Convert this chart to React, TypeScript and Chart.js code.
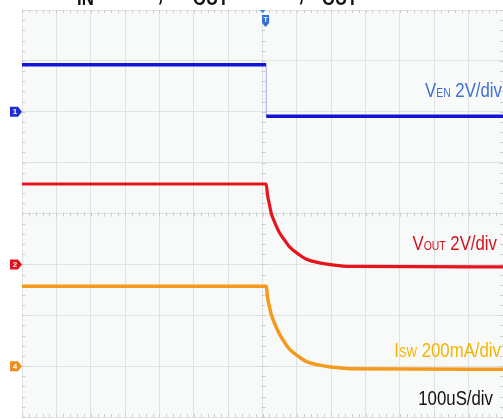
import React, { useEffect, useRef } from "react";
import { Chart, registerables } from "chart.js";

Chart.register(...registerables);

// ---- axis setup (oscilloscope: 100 µs/div, 14 horizontal div, 8 vertical div)
const xMinUs = -700;
const xMaxUs = 700;
const xDivUs = 100;
const yMinDiv = -4;
const yMaxDiv = 4;

// ---- channel 1: V_EN (2 V/div), ground marker at +2 div
const enScale = 2;
const enOffset = 2;
const enTimes = [-700, 10.5, 11, 700];
const enValues = [1.85, 1.85, -0.18, -0.18];

// ---- channel 2: V_OUT (2 V/div), ground marker at -1 div
const outScale = 2;
const outOffset = -1;
const outTimes = [-700, 10.8, 14.6, 20.4, 25.3, 34.9, 49.5, 64.0, 78.6, 107.7, 128.1, 165.9, 203.7, 253.2, 700];
const outValues = [3.16, 3.16, 2.73, 2.34, 2.02, 1.67, 1.24, 0.96, 0.69, 0.37, 0.2, 0.06, -0.02, -0.08, -0.1];

// ---- channel 4: I_SW (200 mA/div), ground marker at -3 div
const swScale = 200;
const swOffset = -3;
const swTimes = [-700, 10.8, 14.6, 20.4, 25.3, 34.9, 49.5, 64.0, 78.6, 107.7, 128.1, 165.9, 203.7, 253.2, 700];
const swValues = [314, 314, 271, 232, 204, 169, 126, 94, 67, 35, 18, 4, -4, -10, -12];

const triggerUs = 9;

const FONT = '"Liberation Sans", Arial, sans-serif';
const SX = 0.8; // horizontal text squeeze of the screenshot

type Seg = { t: string; size: number; dy: number; bold?: boolean };

function toDiv(times: number[], vals: number[], scale: number, offset: number) {
  return times.map((t, i) => ({ x: t, y: offset + vals[i] / scale }));
}

function segWidth(ctx: CanvasRenderingContext2D, segs: Seg[]) {
  let w = 0;
  for (const s of segs) {
    ctx.font = `${s.bold ? "bold " : ""}${s.size}px ${FONT}`;
    w += ctx.measureText(s.t).width * SX;
  }
  return w;
}

function drawSegs(ctx: CanvasRenderingContext2D, segs: Seg[], x: number, base: number, color: string) {
  let cx = x;
  ctx.fillStyle = color;
  ctx.textBaseline = "alphabetic";
  ctx.textAlign = "left";
  for (const s of segs) {
    ctx.font = `${s.bold ? "bold " : ""}${s.size}px ${FONT}`;
    ctx.save();
    ctx.translate(cx, base + s.dy);
    ctx.scale(SX, 1);
    ctx.fillText(s.t, 0, 0);
    ctx.restore();
    cx += ctx.measureText(s.t).width * SX;
  }
}

function drawRight(ctx: CanvasRenderingContext2D, segs: Seg[], right: number, base: number, color: string) {
  const w = segWidth(ctx, segs);
  drawSegs(ctx, segs, right - w, base, color);
}

const scopePlugin = {
  id: "scope",
  beforeDraw(chart: any) {
    const { ctx, chartArea: a } = chart;
    ctx.save();
    ctx.fillStyle = "#ffffff";
    ctx.fillRect(0, 0, chart.width, chart.height);
    ctx.fillStyle = "#f8fafa";
    ctx.fillRect(a.left, a.top, a.right - a.left, a.bottom - a.top);
    ctx.restore();
  },
  beforeDatasetsDraw(chart: any) {
    const { ctx, chartArea: a, scales } = chart;
    const xs = scales.x;
    const ys = scales.y;
    ctx.save();
    ctx.strokeStyle = "#c9cdcd";
    ctx.lineWidth = 1;
    const cx = Math.round(xs.getPixelForValue(0)) + 0.5;
    const cy = Math.round(ys.getPixelForValue(0)) + 0.5;
    ctx.beginPath();
    for (let v = xMinUs; v <= xMaxUs; v += xDivUs / 5) {
      const px = Math.round(xs.getPixelForValue(v)) + 0.5;
      ctx.moveTo(px, a.top);
      ctx.lineTo(px, a.top + 3);
      ctx.moveTo(px, a.bottom);
      ctx.lineTo(px, a.bottom - 3);
      ctx.moveTo(px, cy - 2);
      ctx.lineTo(px, cy + 2);
    }
    for (let v = yMinDiv; v <= yMaxDiv + 0.001; v += 0.2) {
      const py = Math.round(ys.getPixelForValue(v)) + 0.5;
      ctx.moveTo(a.left, py);
      ctx.lineTo(a.left + 3, py);
      ctx.moveTo(a.right, py);
      ctx.lineTo(a.right - 3, py);
      ctx.moveTo(cx - 2, py);
      ctx.lineTo(cx + 2, py);
    }
    ctx.stroke();
    ctx.restore();
  },
  afterDatasetsDraw(chart: any) {
    const { ctx, chartArea: a, scales } = chart;
    const xs = scales.x;
    const ys = scales.y;
    ctx.save();

    // title (cut off at the top of the screenshot)
    const T = 28;
    const S = 21;
    const b = -0.2;
    drawSegs(ctx, [{ t: "V", size: T, dy: 0, bold: true }], 77 - 16, b, "#111");
    drawSegs(ctx, [{ t: "IN", size: S, dy: 4.7, bold: true }, { t: " = 12V,", size: T, dy: 0, bold: true }], 77, b, "#111");
    drawSegs(ctx, [{ t: "V", size: T, dy: 0, bold: true }], 193 - 16, b, "#111");
    drawSegs(ctx, [{ t: "OUT", size: S, dy: 4.7, bold: true }, { t: " = 3.3V,", size: T, dy: 0, bold: true }], 193, b, "#111");
    drawSegs(ctx, [{ t: "I", size: T, dy: 0, bold: true }], 322 - 7, b, "#111");
    drawSegs(ctx, [{ t: "OUT", size: S, dy: 4.7, bold: true }, { t: " = 0A", size: T, dy: 0, bold: true }], 322, b, "#111");

    // channel labels
    drawRight(ctx, [{ t: "V", size: 21, dy: 0 }, { t: "EN", size: 13, dy: 0 }, { t: " 2V/div", size: 21, dy: 0 }], 502, 97, "#3f6fcf");
    drawRight(ctx, [{ t: "V", size: 21, dy: 0 }, { t: "OUT", size: 13, dy: 0 }, { t: " 2V/div", size: 21, dy: 0 }], 497, 250, "#d3121c");
    drawRight(ctx, [{ t: "I", size: 21, dy: 0 }, { t: "SW", size: 14, dy: 0 }, { t: " 200mA/div", size: 21, dy: 0 }], 501, 357, "#f6b400");
    drawRight(ctx, [{ t: "100uS/div", size: 21, dy: 0 }], 493, 405, "#111111");

    // channel ground markers
    const markers: [number, string, string][] = [
      [enOffset, "1", "#1f2fd6"],
      [outOffset, "2", "#e0141e"],
      [swOffset, "4", "#f08c1e"],
    ];
    for (const [off, label, col] of markers) {
      const py = ys.getPixelForValue(off);
      const x0 = 10;
      ctx.fillStyle = col;
      ctx.beginPath();
      ctx.moveTo(x0, py - 5);
      ctx.lineTo(x0 + 8, py - 5);
      ctx.lineTo(x0 + 12, py);
      ctx.lineTo(x0 + 8, py + 5);
      ctx.lineTo(x0, py + 5);
      ctx.closePath();
      ctx.fill();
      ctx.fillStyle = "#ffffff";
      ctx.font = `bold 8px ${FONT}`;
      ctx.textAlign = "center";
      ctx.textBaseline = "middle";
      ctx.fillText(label, x0 + 5, py + 0.5);
    }

    // trigger position markers
    const tx0 = xs.getPixelForValue(0);
    ctx.fillStyle = "#3a8ee0";
    ctx.beginPath();
    ctx.moveTo(tx0 - 3, a.top);
    ctx.lineTo(tx0 + 3, a.top);
    ctx.lineTo(tx0, a.top + 3);
    ctx.closePath();
    ctx.fill();
    const tx = xs.getPixelForValue(triggerUs);
    ctx.fillStyle = "#2f6fd8";
    ctx.beginPath();
    ctx.moveTo(tx - 3.5, a.top + 5);
    ctx.lineTo(tx + 3.5, a.top + 5);
    ctx.lineTo(tx + 3.5, a.top + 13);
    ctx.lineTo(tx, a.top + 17);
    ctx.lineTo(tx - 3.5, a.top + 13);
    ctx.closePath();
    ctx.fill();
    ctx.fillStyle = "#ffffff";
    ctx.font = `bold 7px ${FONT}`;
    ctx.textAlign = "center";
    ctx.textBaseline = "middle";
    ctx.fillText("T", tx, a.top + 10);
    ctx.restore();
  },
};

export default function App() {
  const ref = useRef<HTMLCanvasElement | null>(null);
  useEffect(() => {
    if (!ref.current) return;
    const chart = new Chart(ref.current, {
      type: "line",
      data: {
        datasets: [
          {
            label: "VEN",
            data: toDiv(enTimes, enValues, enScale, enOffset),
            borderColor: "#1414d8",
            borderWidth: 3.5,
            pointRadius: 0,
            tension: 0,
            segment: {
              borderColor: (c: any) => (c.p0DataIndex === 1 ? "rgba(20,20,216,0.12)" : "#1414d8"),
              borderWidth: (c: any) => (c.p0DataIndex === 1 ? 1 : 3.5),
            },
          },
          {
            label: "VOUT",
            data: toDiv(outTimes, outValues, outScale, outOffset),
            borderColor: "#e8141c",
            borderWidth: 3.2,
            pointRadius: 0,
            cubicInterpolationMode: "monotone",
          },
          {
            label: "ISW",
            data: toDiv(swTimes, swValues, swScale, swOffset),
            borderColor: "#f59a1c",
            borderWidth: 3.5,
            pointRadius: 0,
            cubicInterpolationMode: "monotone",
          },
        ],
      },
      options: {
        responsive: false,
        animation: false,
        events: [],
        layout: { padding: { left: 22, top: 10, right: 0, bottom: 2 } },
        plugins: { legend: { display: false }, tooltip: { enabled: false }, title: { display: false } },
        scales: {
          x: {
            type: "linear",
            min: xMinUs,
            max: xMaxUs,
            afterFit: (s: any) => { s.height = 0; },
            ticks: { display: false, stepSize: xDivUs },
            grid: { color: "#dfe2e2", lineWidth: 1, drawTicks: false },
            border: { display: false },
          },
          y: {
            type: "linear",
            min: yMinDiv,
            max: yMaxDiv,
            afterFit: (s: any) => { s.width = 0; },
            ticks: { display: false, stepSize: 1 },
            grid: { color: "#dfe2e2", lineWidth: 1, drawTicks: false },
            border: { display: false },
          },
        },
      },
      plugins: [scopePlugin],
    } as any);
    return () => chart.destroy();
  }, []);
  return (
    <div style={{ position: "absolute", left: 0, top: 0, width: 503, height: 419, background: "#fff" }}>
      <canvas ref={ref} width={503} height={419} style={{ width: 503, height: 419, display: "block" }} />
    </div>
  );
}
